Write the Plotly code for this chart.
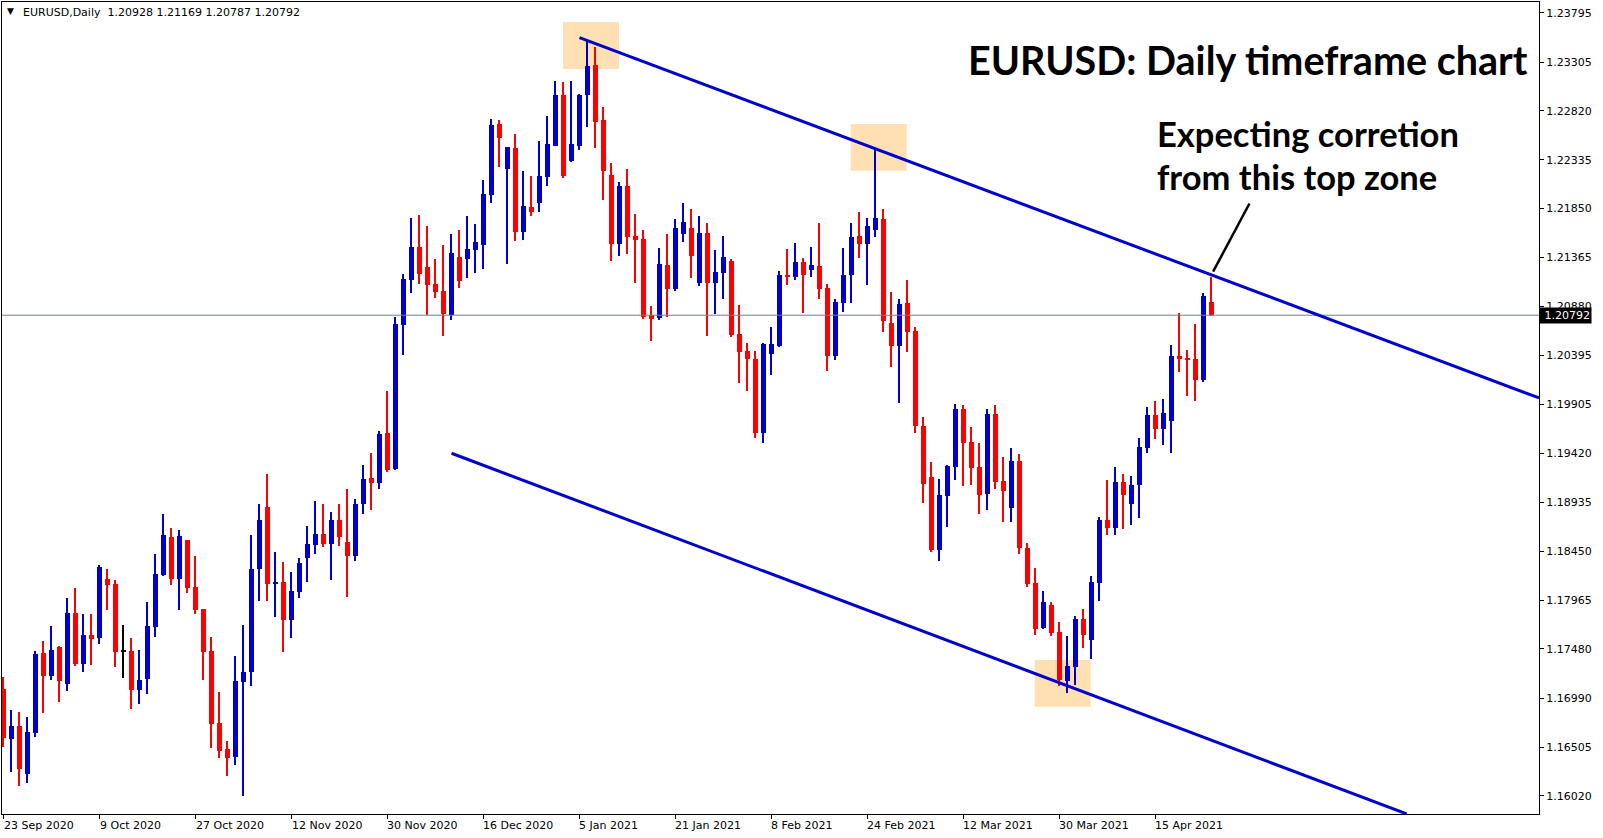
import plotly.graph_objects as go

# ---------------- data ----------------
open_ = [1.17082,1.16586,1.16715,1.16241,1.16648,1.17439,1.17214,1.17499,1.17135,1.17836,
         1.17333,1.17618,1.17591,1.18174,1.18124,1.17452,1.17459,1.17075,1.17184,1.17700,
         1.18217,1.18591,1.18177,1.18561,1.18095,1.17876,1.17459,1.16744,1.16486,1.16410,
         1.17151,1.17251,1.18276,1.18888,1.18130,1.18144,1.17770,1.18048,1.18385,1.18514,
         1.18621,1.18524,1.18759,1.18541,1.18405,1.18918,1.19176,1.19127,1.19623,1.19266,
         1.20695,1.21145,1.21469,1.21271,1.21102,1.21033,1.20794,1.21370,1.21350,1.21439,
         1.21489,1.21985,1.22690,1.22246,1.22455,1.21621,1.21866,1.21906,1.22164,1.22472,
         1.22978,1.22323,1.22472,1.22978,1.23276,1.22730,1.22184,1.21502,1.22075,1.21578,
         1.21549,1.20797,1.20765,1.21291,1.21052,1.21598,1.21658,1.21112,1.21608,1.21112,
         1.21211,1.21330,1.20606,1.20437,1.20358,1.19626,1.20407,1.20487,1.21195,1.21171,
         1.21320,1.21241,1.21281,1.21062,1.20387,1.20913,1.21191,1.21578,1.21499,1.21638,
         1.21747,1.20715,1.20487,1.20913,1.20635,1.19695,1.19186,1.18465,1.19001,1.19289,
         1.19861,1.19534,1.19286,1.19021,1.19812,1.19150,1.18882,1.19345,1.18485,1.18137,
         1.17691,1.17919,1.17651,1.17164,1.17303,1.17780,1.17571,1.18137,1.18759,1.18683,
         1.19140,1.18921,1.19110,1.19477,1.19802,1.19663,1.19745,1.20387,1.20370,1.20361,
         1.20152,1.20928]
high = [1.17204,1.16874,1.16854,1.16807,1.17462,1.17558,1.17707,1.17505,1.17985,1.18085,
        1.17826,1.17826,1.18316,1.18273,1.18164,1.17717,1.17588,1.17469,1.17946,1.18422,
        1.18819,1.18680,1.18660,1.18565,1.18405,1.17880,1.17598,1.17052,1.16566,1.17410,
        1.17717,1.18611,1.18918,1.19216,1.18442,1.18343,1.18243,1.18382,1.18700,1.18948,
        1.18918,1.18839,1.18918,1.19067,1.18968,1.19305,1.19425,1.19643,1.20040,1.20774,
        1.21201,1.21757,1.21787,1.21678,1.21350,1.21489,1.21598,1.21638,1.21777,1.21698,
        1.22134,1.22740,1.22730,1.22465,1.22591,1.22224,1.22174,1.22521,1.22770,1.23117,
        1.23107,1.23117,1.22988,1.23517,1.23454,1.22859,1.22303,1.22114,1.22244,1.21797,
        1.21638,1.20884,1.21459,1.21598,1.21747,1.21906,1.21846,1.21777,1.21707,1.21439,
        1.21578,1.21350,1.20894,1.20516,1.20437,1.20516,1.20675,1.21231,1.21449,1.21509,
        1.21360,1.21469,1.21707,1.21102,1.20953,1.21459,1.21707,1.21817,1.21757,1.22432,
        1.21846,1.21023,1.20953,1.21142,1.20675,1.19782,1.19338,1.19166,1.19308,1.19911,
        1.19901,1.19683,1.19524,1.19861,1.19901,1.19385,1.19474,1.19414,1.18534,1.18286,
        1.18058,1.17949,1.17750,1.17611,1.17810,1.17879,1.18207,1.18792,1.19160,1.19286,
        1.19216,1.19196,1.19573,1.19881,1.19941,1.19961,1.20497,1.20814,1.20447,1.20705,
        1.21013,1.21169]
low = [1.16509,1.16261,1.16122,1.16152,1.16609,1.16847,1.17174,1.16953,1.17062,1.17313,
       1.17254,1.17323,1.17532,1.17869,1.17303,1.17194,1.16886,1.16936,1.17035,1.17601,
       1.18207,1.18117,1.17866,1.18038,1.17826,1.17171,1.16496,1.16397,1.16218,1.16328,
       1.16023,1.17115,1.17958,1.17958,1.17800,1.17452,1.17591,1.17988,1.18147,1.18425,
       1.18494,1.18167,1.18504,1.17998,1.18355,1.18819,1.18859,1.19067,1.19236,1.19256,
       1.20397,1.21013,1.21105,1.20794,1.20966,1.20586,1.20745,1.21062,1.21162,1.21211,
       1.21251,1.21906,1.22266,1.21303,1.21532,1.21542,1.21777,1.21817,1.22075,1.22472,
       1.22154,1.22313,1.22432,1.22660,1.22452,1.21936,1.21330,1.21380,1.21400,1.21112,
       1.20755,1.20539,1.20748,1.20777,1.21033,1.21519,1.21162,1.21082,1.20586,1.20804,
       1.20953,1.20576,1.20119,1.20040,1.19576,1.19527,1.20199,1.20477,1.21092,1.21142,
       1.20814,1.21171,1.20953,1.20238,1.20348,1.20824,1.20913,1.21360,1.21092,1.21569,
       1.20626,1.20278,1.19921,1.20427,1.19620,1.18931,1.18445,1.18356,1.18693,1.19160,
       1.19100,1.19110,1.18822,1.18862,1.19070,1.18743,1.18743,1.18425,1.18097,1.17621,
       1.17681,1.17611,1.17115,1.17045,1.17125,1.17492,1.17383,1.17958,1.18614,1.18614,
       1.18673,1.18713,1.18782,1.19428,1.19566,1.19504,1.19428,1.20231,1.19993,1.19944,
       1.20132,1.20787]
close = [1.16599,1.16715,1.16291,1.16655,1.17429,1.17214,1.17469,1.17164,1.17836,1.17333,
         1.17618,1.17581,1.18293,1.18117,1.17452,1.17452,1.17075,1.17171,1.17707,1.18223,
         1.18611,1.18177,1.18601,1.18087,1.17866,1.17452,1.16737,1.16470,1.16397,1.17161,
         1.17251,1.18273,1.18759,1.18127,1.18140,1.17770,1.18055,1.18333,1.18521,1.18621,
         1.18524,1.18759,1.18594,1.18405,1.18918,1.19166,1.19127,1.19613,1.19256,1.20705,
         1.21152,1.21469,1.21204,1.21092,1.21023,1.20804,1.21410,1.21132,1.21449,1.21519,
         1.21995,1.22680,1.22554,1.22465,1.21621,1.21876,1.21817,1.22174,1.22492,1.22978,
         1.22174,1.22492,1.22978,1.23266,1.22710,1.22224,1.21502,1.22075,1.21571,1.21539,
         1.20777,1.20755,1.21300,1.21052,1.21658,1.21717,1.21380,1.21608,1.21112,1.21221,
         1.21370,1.20599,1.20430,1.20358,1.19626,1.20506,1.20506,1.21191,1.21181,1.21320,
         1.21191,1.21291,1.21052,1.20387,1.20923,1.21191,1.21569,1.21499,1.21678,1.21757,
         1.20735,1.20487,1.20903,1.20626,1.19695,1.19120,1.18465,1.19008,1.19295,1.19861,
         1.19527,1.19279,1.19011,1.19812,1.19140,1.19050,1.19345,1.18485,1.18127,1.17681,
         1.17949,1.17641,1.17174,1.17313,1.17780,1.17621,1.18147,1.18762,1.18683,1.19140,
         1.19011,1.19110,1.19484,1.19802,1.19666,1.19821,1.20387,1.20361,1.20351,1.20152,
         1.20983,1.20792]

x_tick_index = [0, 12, 24, 36, 48, 60, 72, 84, 96, 108, 120, 132, 144]
x_tick_labels = ["23 Sep 2020", "9 Oct 2020", "27 Oct 2020", "12 Nov 2020", "30 Nov 2020",
                 "16 Dec 2020", "5 Jan 2021", "21 Jan 2021", "8 Feb 2021", "24 Feb 2021",
                 "12 Mar 2021", "30 Mar 2021", "15 Apr 2021"]
y_tick_values = [1.23795, 1.23305, 1.22820, 1.22335, 1.21850, 1.21365, 1.20880, 1.20395,
                 1.19905, 1.19420, 1.18935, 1.18450, 1.17965, 1.17480, 1.16990, 1.16505, 1.16020]

last_price = 1.20792
# channel lines: (bar index, price) anchors
upper_line = [(72, 1.23547), (191.94, 1.19971)]
lower_line = [(56, 1.19422), (175.4, 1.15842)]
# highlighted zones: (x0, x1, y0, y1) in bar index / price
zones = [(69.94, 76.94, 1.23236, 1.23703),
         (105.9, 112.9, 1.22227, 1.22690),
         (128.9, 135.9, 1.16906, 1.17370)]
arrow_pts = [(151.2, 1.21224), (155.75, 1.21901)]

# ---------------- figure ----------------
BLUE = "#0000CD"
RED = "#FF0000"
n = len(open_)
idx = list(range(n))
cols = [BLUE if c > o else (RED if c < o else "#000000") for o, c in zip(open_, close)]

fig = go.Figure()
fig.add_trace(go.Bar(x=idx, base=low, y=[h - l for h, l in zip(high, low)],
                     width=0.13, marker=dict(color=cols, line=dict(width=0)),
                     hoverinfo="skip", showlegend=False))
fig.add_trace(go.Bar(x=idx, base=[min(o, c) for o, c in zip(open_, close)],
                     y=[max(abs(c - o), 0.00009) for o, c in zip(open_, close)],
                     width=0.63, marker=dict(color=cols, line=dict(width=0)),
                     showlegend=False))

shapes = []
for (x0, x1, y0, y1) in zones:
    shapes.append(dict(type="rect", xref="x", yref="y", x0=x0, x1=x1, y0=y0, y1=y1,
                       fillcolor="#FFE0B2", line=dict(width=0), layer="below"))
shapes.append(dict(type="line", xref="paper", yref="y", x0=0, x1=1,
                   y0=last_price, y1=last_price, line=dict(color="#708090", width=1)))
for ln in (upper_line, lower_line):
    shapes.append(dict(type="line", xref="x", yref="y", x0=ln[0][0], y0=ln[0][1],
                       x1=ln[1][0], y1=ln[1][1], line=dict(color=BLUE, width=3)))
shapes.append(dict(type="line", xref="x", yref="y", x0=arrow_pts[0][0], y0=arrow_pts[0][1],
                   x1=arrow_pts[1][0], y1=arrow_pts[1][1], line=dict(color="black", width=2.5)))

PW, PH = 1537, 812
ann = []
for ti, tl in zip(x_tick_index, x_tick_labels):
    ann.append(dict(x=ti, xref="x", y=-11 / PH, yref="paper", text=tl, showarrow=False,
                    xanchor="left", yanchor="middle", xshift=-2,
                    font=dict(family="DejaVu Sans", size=11, color="black")))
ann.append(dict(x=1, xref="paper", y=last_price, yref="y", text="\u00a01.20792",
                showarrow=False, xanchor="left", yanchor="middle", bgcolor="black",
                borderpad=1, font=dict(family="DejaVu Sans", size=11, color="white")))
ann.append(dict(x=(10 - 2) / PW, xref="paper", y=1 - (11 - 2) / PH, yref="paper", text="\u25bc",
                showarrow=False, xanchor="center", yanchor="middle",
                font=dict(family="DejaVu Sans", size=9, color="black")))
ann.append(dict(x=(21 - 2) / PW, xref="paper", y=1 - (12 - 2) / PH, yref="paper",
                text="EURUSD,Daily\u00a0\u00a01.20928 1.21169 1.20787 1.20792",
                showarrow=False, xanchor="left", yanchor="middle",
                font=dict(family="DejaVu Sans", size=11, color="black")))
ann.append(dict(x=(1530 - 2) / PW, xref="paper", y=1 - (60 - 2) / PH, yref="paper",
                text="<b>EURUSD: Daily timeframe chart</b>", showarrow=False,
                xanchor="right", yanchor="middle",
                font=dict(family="Lato", size=39.5, color="black")))
ann.append(dict(x=(1155 - 2) / PW, xref="paper", y=1 - (133 - 2) / PH, yref="paper",
                text="<b>Expecting corretion</b>", showarrow=False,
                xanchor="left", yanchor="middle",
                font=dict(family="Lato", size=34.5, color="black")))
ann.append(dict(x=(1155 - 2) / PW, xref="paper", y=1 - (177 - 2) / PH, yref="paper",
                text="<b>from this top zone</b>", showarrow=False,
                xanchor="left", yanchor="middle",
                font=dict(family="Lato", size=34.5, color="black")))

fig.update_layout(
    width=1603, height=838,
    margin=dict(l=2, r=64, t=2, b=24),
    paper_bgcolor="white", plot_bgcolor="white",
    barmode="overlay", bargap=0, showlegend=False,
    shapes=shapes, annotations=ann,
    xaxis=dict(range=[-0.1875, 191.94], showgrid=False, zeroline=False,
               showline=True, mirror=True, linecolor="black", linewidth=1,
               tickmode="array", tickvals=x_tick_index, ticktext=[""] * len(x_tick_index),
               ticks="outside", ticklen=4, tickcolor="black", fixedrange=True),
    yaxis=dict(range=[1.15841, 1.23901], side="right", showgrid=False, zeroline=False,
               showline=True, mirror=True, linecolor="black", linewidth=1,
               tickmode="array", tickvals=y_tick_values,
               ticktext=[f"{v:.5f}" for v in y_tick_values],
               ticks="outside", ticklen=4, tickcolor="black",
               tickfont=dict(family="DejaVu Sans", size=11, color="black"),
               fixedrange=True),
    hovermode=False,
)

fig.write_html("out.html", config={"displayModeBar": False},
               post_script="document.body.style.margin='0';document.body.style.overflow='hidden';")
